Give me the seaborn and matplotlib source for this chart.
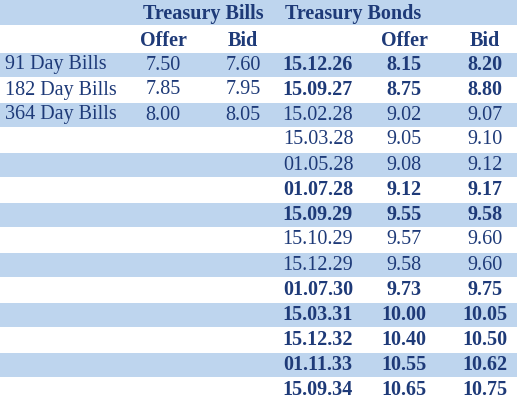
import matplotlib
matplotlib.use("Agg")
import matplotlib.pyplot as plt
import seaborn as sns

bill_names = ["91 Day Bills", "182 Day Bills", "364 Day Bills"]
bill_offer = ["7.50", "7.85", "8.00"]
bill_bid = ["7.60", "7.95", "8.05"]
bond_dates = ["15.12.26", "15.09.27", "15.02.28", "15.03.28", "01.05.28", "01.07.28", "15.09.29",
              "15.10.29", "15.12.29", "01.07.30", "15.03.31", "15.12.32", "01.11.33", "15.09.34"]
bond_offer = ["8.15", "8.75", "9.02", "9.05", "9.08", "9.12", "9.55", "9.57", "9.58", "9.73",
              "10.00", "10.40", "10.55", "10.65"]
bond_bid = ["8.20", "8.80", "9.07", "9.10", "9.12", "9.17", "9.58", "9.60", "9.60", "9.75",
            "10.05", "10.50", "10.62", "10.75"]
bond_bold = [True, True, False, False, False, True, True, False, False, True, True, True, True, True]

sns.set_theme(style="white")
plt.rcParams['font.family'] = ['Liberation Serif', 'DejaVu Serif']

fig = plt.figure(figsize=(5.17, 4.0), dpi=100)
ax = fig.add_axes([0, 0, 1, 1])
ax.set_xlim(0, 517)
ax.set_ylim(400, 0)
ax.axis("off")

blue = "#bed5ee"
txt = "#1e3a78"
rh = 25
ax.axhspan(0, rh, color=blue, lw=0)
for i in range(len(bond_dates)):
    if i % 2 == 0:
        ax.axhspan(2 * rh + i * rh + 3, 3 * rh + i * rh + 2, color=blue, lw=0)

fs = 14.5
ax.text(203, 14, "Treasury Bills", ha="center", va="center", fontsize=fs, fontweight="bold", color=txt)
ax.text(353, 14, "Treasury Bonds", ha="center", va="center", fontsize=fs, fontweight="bold", color=txt)
for x, s in [(163, "Offer"), (243, "Bid"), (404, "Offer"), (485, "Bid")]:
    ax.text(x, 41, s, ha="center", va="center", fontsize=fs, fontweight="bold", color=txt)

for i, name in enumerate(bill_names):
    y = 2 * rh + i * rh + 15
    ax.text(5, y, name, ha="left", va="center", fontsize=fs, color=txt)
    ax.text(163, y, bill_offer[i], ha="center", va="center", fontsize=fs, color=txt)
    ax.text(243, y, bill_bid[i], ha="center", va="center", fontsize=fs, color=txt)

for i, d in enumerate(bond_dates):
    y = 2 * rh + i * rh + 15
    w = "bold" if bond_bold[i] else "normal"
    ax.text(318, y, d, ha="center", va="center", fontsize=fs, fontweight=w, color=txt)
    ax.text(404, y, bond_offer[i], ha="center", va="center", fontsize=fs, fontweight=w, color=txt)
    ax.text(485, y, bond_bid[i], ha="center", va="center", fontsize=fs, fontweight=w, color=txt)

fig.savefig("out.png", dpi=100)
